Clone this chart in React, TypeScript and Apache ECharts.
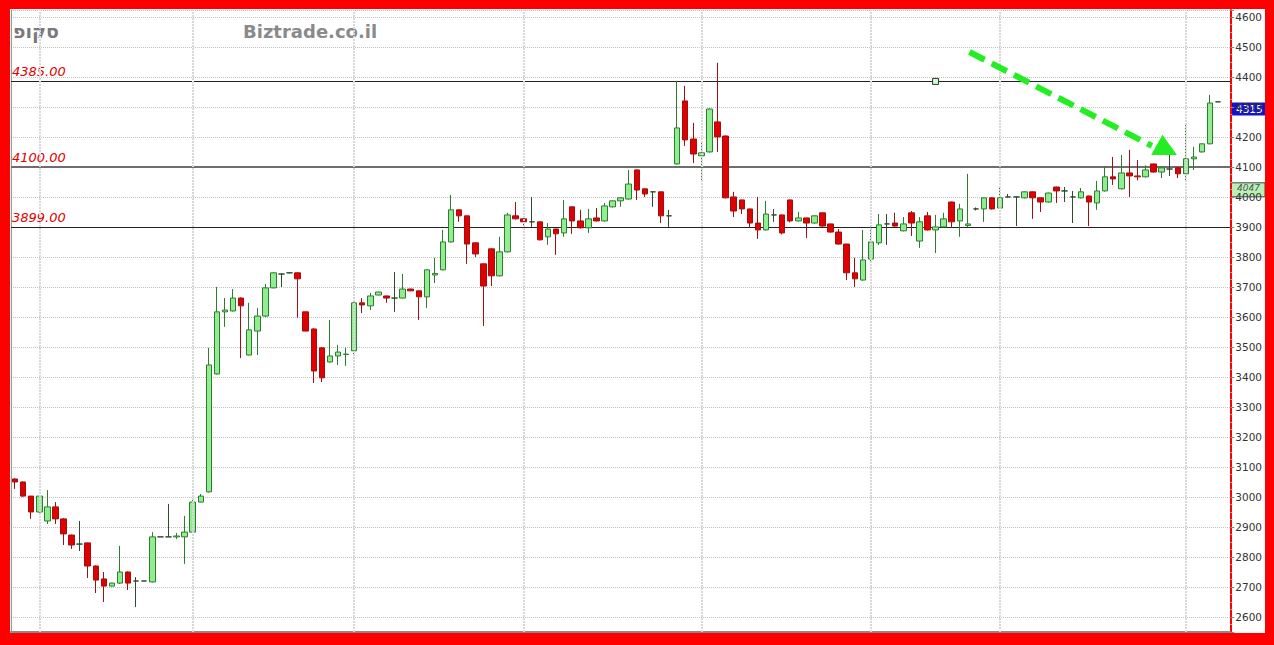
import React, { useEffect, useRef } from "react";
import * as echarts from "echarts";

// ---- data ----
const OPEN = [
  3060, 3050, 3003, 2950, 2920, 2967, 2927, 2873, 2843, 2847,
  2770, 2727, 2703, 2713, 2750, 2720, 2720, 2717, 2867, 2867,
  2867, 2867, 2883, 2983, 3017, 3410, 3617, 3620, 3663, 3473,
  3553, 3603, 3697, 3743, 3747, 3747, 3617, 3560, 3497, 3450,
  3470, 3475, 3487, 3647, 3637, 3673, 3670, 3663, 3663, 3693,
  3687, 3667, 3740, 3757, 3850, 3957, 3937, 3847, 3777, 3827,
  3737, 3817, 3937, 3927, 3917, 3917, 3867, 3893, 3880, 3967,
  3920, 3897, 3930, 3920, 3967, 3987, 3993, 4090, 4027, 4017,
  4017, 3937, 4110, 4320, 4193, 4137, 4150, 4250, 4203, 4000,
  3990, 3960, 3913, 3890, 3940, 3940, 3990, 3920, 3930, 3913,
  3947, 3910, 3883, 3843, 3747, 3723, 3793, 3847, 3910, 3913,
  3887, 3947, 3853, 3937, 3890, 3900, 3983, 3920, 3905, 3960,
  3960, 3997, 3963, 4000, 4000, 3997, 4017, 3997, 3983, 4033,
  4020, 4000, 3997, 4003, 3980, 4020, 4067, 4027, 4080, 4070,
  4067, 4110, 4083, 4093, 4097, 4077, 4127, 4150, 4177, 4317,
];
const CLOSE = [
  3050, 3003, 2950, 3003, 2967, 2927, 2877, 2840, 2843, 2770,
  2723, 2703, 2713, 2750, 2713, 2720, 2720, 2867, 2867, 2867,
  2870, 2883, 2983, 3003, 3440, 3617, 3623, 3663, 3637, 3557,
  3603, 3697, 3747, 3743, 3747, 3727, 3553, 3420, 3397, 3470,
  3483, 3476, 3647, 3640, 3670, 3683, 3663, 3663, 3693, 3687,
  3667, 3757, 3745, 3850, 3957, 3937, 3843, 3810, 3703, 3737,
  3817, 3940, 3927, 3917, 3917, 3857, 3893, 3877, 3927, 3920,
  3897, 3927, 3920, 3970, 3987, 3997, 4043, 4023, 4010, 4017,
  3937, 3937, 4230, 4190, 4143, 4147, 4293, 4200, 3997, 3953,
  3960, 3913, 3890, 3943, 3940, 3880, 3920, 3930, 3913, 3937,
  3903, 3883, 3843, 3747, 3727, 3790, 3850, 3907, 3910, 3903,
  3910, 3913, 3917, 3890, 3900, 3927, 3917, 3960, 3910, 3960,
  3997, 3960, 3997, 4000, 4000, 4017, 3997, 3983, 4013, 4020,
  4020, 4000, 4017, 3983, 4020, 4067, 4060, 4080, 4070, 4067,
  4090, 4083, 4097, 4093, 4077, 4127, 4133, 4177, 4313, 4317,
];
const LOW = [
  3027, 3000, 2927, 2948, 2910, 2910, 2840, 2827, 2820, 2730,
  2680, 2650, 2702, 2710, 2690, 2633, 2720, 2715, 2867, 2867,
  2860, 2777, 2882, 2982, 3015, 3408, 3567, 3618, 3463, 3472,
  3473, 3600, 3695, 3700, 3746, 3597, 3552, 3380, 3383, 3448,
  3440, 3437, 3473, 3613, 3623, 3672, 3647, 3617, 3662, 3686,
  3590, 3630, 3713, 3755, 3848, 3917, 3777, 3800, 3570, 3703,
  3735, 3815, 3925, 3897, 3900, 3855, 3840, 3807, 3867, 3877,
  3895, 3880, 3918, 3918, 3965, 3967, 3991, 3990, 4000, 3967,
  3913, 3900, 4108, 4170, 4113, 4050, 4148, 4150, 3995, 3933,
  3943, 3897, 3860, 3888, 3917, 3875, 3915, 3918, 3863, 3911,
  3901, 3881, 3841, 3723, 3700, 3721, 3780, 3840, 3840, 3901,
  3885, 3870, 3830, 3888, 3813, 3898, 3897, 3867, 3900, 3955,
  3917, 3958, 3961, 3998, 3903, 3995, 3927, 3950, 3981, 3980,
  3983, 3913, 3995, 3903, 3957, 4018, 4040, 4025, 4000, 4055,
  4065, 4081, 4063, 4070, 4063, 4050, 4090, 4148, 4175, 4317,
];
const HIGH = [
  3062, 3052, 3003, 3005, 3023, 2983, 2930, 2875, 2920, 2848,
  2772, 2750, 2714, 2837, 2752, 2733, 2720, 2883, 2867, 2977,
  2880, 2937, 2993, 3010, 3497, 3700, 3663, 3693, 3665, 3647,
  3630, 3710, 3749, 3745, 3748, 3749, 3618, 3562, 3499, 3590,
  3507, 3497, 3649, 3663, 3680, 3684, 3671, 3750, 3743, 3694,
  3688, 3758, 3797, 3890, 4007, 3958, 3938, 3848, 3778, 3828,
  3867, 3947, 3983, 3928, 4000, 3918, 3913, 3894, 3990, 3968,
  3957, 3960, 3963, 3980, 3988, 3998, 4090, 4092, 4028, 4018,
  4018, 3957, 4387, 4370, 4247, 4180, 4295, 4447, 4205, 4017,
  3991, 3961, 4000, 3987, 3960, 3941, 3991, 3950, 3931, 3938,
  3948, 3911, 3893, 3844, 3797, 3890, 3900, 3943, 3943, 3947,
  3933, 3953, 3933, 3950, 3940, 3947, 3984, 3977, 4077, 3965,
  3998, 3998, 4030, 4010, 4001, 4018, 4018, 3998, 4014, 4034,
  4033, 4020, 4030, 4004, 4053, 4100, 4133, 4140, 4157, 4123,
  4105, 4111, 4098, 4157, 4098, 4240, 4167, 4178, 4340, 4317,
];
// one trailing empty slot on the right of the last candle
const SLOT_COUNT = 151;
const CATEGORIES = Array.from({ length: SLOT_COUNT }, (_, i) => `D${i + 1}`);

const Y_MIN = 2550;
const Y_MAX = 4623;
const LEVELS = [4385, 4100, 3899];
const MONTH_STARTS = [3, 22, 42, 63, 85, 106, 122, 145];
const LAST_PRICE = 4315;
const MARK_PRICE = 4047;
const HANDLE_POINT = [114, 4385];
const ARROW_FROM = [118.2, 4483];
const ARROW_TO = [140.8, 4170];
const ARROW_HEAD = [
  [142.1, 4207],
  [143.9, 4140],
  [140.7, 4140],
];

const FONT = "DejaVu Sans, Verdana, sans-serif";

export default function App() {
  const ref = useRef<HTMLDivElement>(null);

  useEffect(() => {
    if (!ref.current) return;
    const chart = echarts.init(ref.current, null, { renderer: "svg" });

    const candleData = OPEN.map((o, i) => [o, CLOSE[i], LOW[i], HIGH[i]]);

    chart.setOption({
      animation: false,
      backgroundColor: "#ffffff",
      grid: { left: 1, right: 34, top: 1, bottom: 1, containLabel: false },
      xAxis: {
        type: "category",
        data: CATEGORIES,
        boundaryGap: true,
        axisLine: { show: true, lineStyle: { color: "#8a8a8a", width: 2 } },
        axisTick: { show: false },
        axisLabel: { show: false },
        splitLine: { show: false },
      },
      yAxis: [
        {
          type: "value",
          position: "right",
          min: Y_MIN,
          max: Y_MAX,
          splitNumber: 20,
          minInterval: 100,
          maxInterval: 100,
          axisLine: { show: true, lineStyle: { color: "#ff0000", width: 2 } },
          axisTick: { show: true, length: 4, lineStyle: { color: "#888" } },
          minorTick: { show: true, splitNumber: 4, length: 2, lineStyle: { color: "#aaa" } },
          axisLabel: {
            color: "#333",
            fontSize: 10.5,
            fontFamily: FONT,
            margin: 5,
            showMinLabel: false,
            showMaxLabel: false,
            formatter: (v: number) => (v % 100 === 0 ? String(v) : ""),
          },
          splitLine: { show: true, lineStyle: { color: "#c2c2c2", type: "dotted", width: 1 } },
        },
        {
          type: "value",
          position: "left",
          min: Y_MIN,
          max: Y_MAX,
          axisLine: { show: true, lineStyle: { color: "#999", width: 1 } },
          axisTick: { show: false },
          axisLabel: { show: false },
          splitLine: { show: false },
        },
      ],
      series: [
        {
          type: "line",
          data: [],
          z: 1,
          silent: true,
          markLine: {
            silent: true,
            symbol: ["none", "none"],
            animation: false,
            data: MONTH_STARTS.map((i) => ({
              xAxis: CATEGORIES[i],
              label: { show: false },
              lineStyle: { color: "#d8d8d8", width: 2, type: [2, 1] },
            })),
          },
        },
        {
          type: "candlestick",
          data: candleData,
          barWidth: 6,
          z: 3,
          itemStyle: {
            color: "#90ee90",
            color0: "#e00000",
            borderColor: "#2e7d2e",
            borderColor0: "#a01010",
            borderColorDoji: "#2f4a2f",
            borderWidth: 1,
          },
          markLine: {
            silent: true,
            symbol: ["none", "none"],
            animation: false,
            z: 2,
            data: LEVELS.map((v, k) => ({
              yAxis: v,
              lineStyle: {
                color: k === 1 ? "#6e6e6e" : "#222",
                width: k === 1 ? 2 : 1,
                type: "solid",
              },
              label: {
                show: true,
                position: "insideStartTop",
                distance: [1, 3],
                formatter: v.toFixed(2),
                color: "#e00000",
                fontStyle: "italic",
                fontSize: 13,
                fontFamily: FONT,
              },
            })),
          },
        },
      ],
    });

    const step = (() => {
      const a = chart.convertToPixel({ xAxisIndex: 0, yAxisIndex: 0 }, [0, Y_MIN]) as number[];
      const b = chart.convertToPixel({ xAxisIndex: 0, yAxisIndex: 0 }, [1, Y_MIN]) as number[];
      return { x0: a[0], dx: b[0] - a[0] };
    })();
    const toPx = (idx: number, val: number): number[] => {
      const p = chart.convertToPixel({ xAxisIndex: 0, yAxisIndex: 0 }, [0, val]) as number[];
      return [step.x0 + idx * step.dx, p[1]];
    };

    const width = chart.getWidth();
    const axisX = width - 34;
    const from = toPx(ARROW_FROM[0], ARROW_FROM[1]);
    const to = toPx(ARROW_TO[0], ARROW_TO[1]);
    const head = ARROW_HEAD.map(([i, v]) => toPx(i, v));
    const handle = toPx(HANDLE_POINT[0], HANDLE_POINT[1]);
    const lastY = toPx(0, LAST_PRICE)[1];
    const markY = toPx(0, MARK_PRICE)[1];

    chart.setOption({
      graphic: [
        {
          type: "text",
          x: 3,
          y: 22,
          style: {
            text: "סקופ",
            fill: "#7a7a7a",
            font: `bold 19px ${FONT}`,
            verticalAlign: "middle",
          },
        },
        {
          type: "text",
          x: 233,
          y: 22,
          style: {
            text: "Biztrade.co.il",
            fill: "#8a8a8a",
            font: `bold 18px ${FONT}`,
            verticalAlign: "middle",
          },
        },
        {
          type: "line",
          z: 10,
          shape: { x1: from[0], y1: from[1], x2: to[0], y2: to[1] },
          style: { stroke: "#22ee22", lineWidth: 6, lineDash: [17, 8] },
        },
        {
          type: "polygon",
          z: 10,
          shape: { points: head },
          style: { fill: "#22ee22" },
        },
        {
          type: "rect",
          z: 10,
          shape: { x: handle[0] - 3, y: handle[1] - 3, width: 6, height: 6 },
          style: { fill: "#ccffcc", stroke: "#333", lineWidth: 1 },
        },
        {
          type: "group",
          z: 0,
          children: [
            {
              type: "rect",
              shape: { x: axisX, y: markY, width: 34, height: 14 },
              style: { fill: "#b8f0b8", stroke: "#444", lineWidth: 1 },
            },
            {
              type: "text",
              x: axisX + 6,
              y: markY + 1,
              style: {
                text: String(MARK_PRICE),
                fill: "#555",
                font: `italic 9px ${FONT}`,
                verticalAlign: "top",
              },
            },
          ],
        },
        {
          type: "group",
          z: 20,
          children: [
            {
              type: "rect",
              shape: { x: axisX, y: lastY, width: 34, height: 13 },
              style: { fill: "#1515c8" },
            },
            {
              type: "text",
              x: axisX + 5,
              y: lastY + 6.5,
              style: {
                text: String(LAST_PRICE),
                fill: "#ffffff",
                font: `10.5px ${FONT}`,
                verticalAlign: "middle",
              },
            },
          ],
        },
      ],
    });

    return () => chart.dispose();
  }, []);

  return (
    <div
      style={{
        position: "fixed",
        left: 0,
        top: 0,
        width: 1274,
        height: 645,
        background: "#ff0000",
      }}
    >
      <div
        ref={ref}
        style={{
          position: "absolute",
          left: 10,
          top: 9,
          width: 1255,
          height: 624,
          background: "#ffffff",
        }}
      />
    </div>
  );
}
